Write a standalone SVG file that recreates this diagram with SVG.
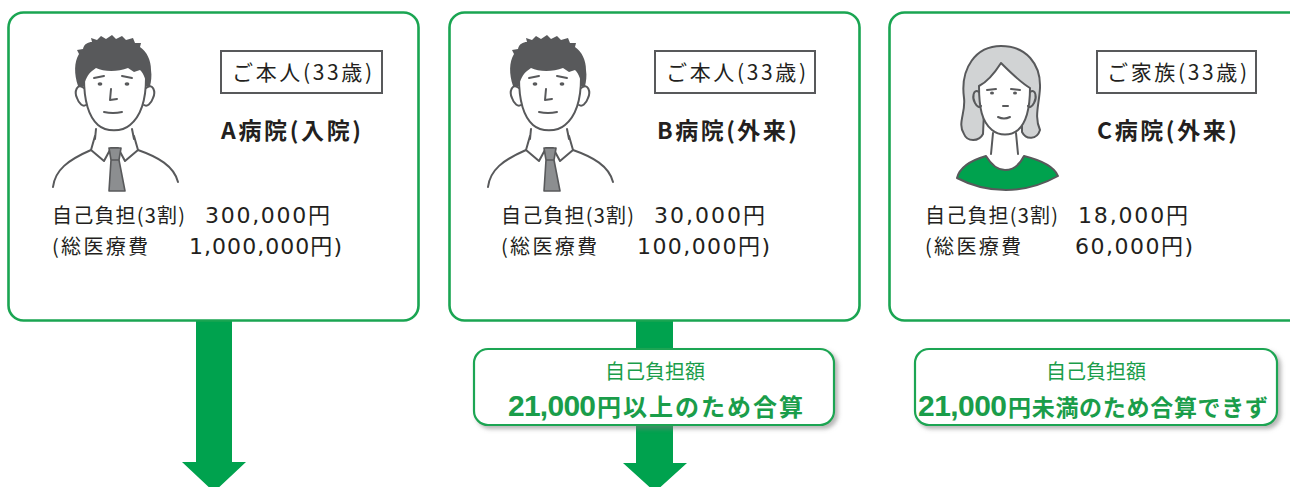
<svg xmlns="http://www.w3.org/2000/svg" xmlns:xlink="http://www.w3.org/1999/xlink" width="1290" height="487" viewBox="0 0 1290 487">
  <defs>
    <style>
      .card { fill: #ffffff; stroke: #1aa552; stroke-width: 2.6; }
      .tag { fill: #ffffff; stroke: #58595b; stroke-width: 2; }
      .txt { font-family: "Noto Sans CJK JP", "Liberation Sans", sans-serif; fill: #231f20; }
      .tagtxt { font-size: 21px; }
      .head { font-size: 23px; font-weight: bold; }
      .body { font-size: 20px; }
      .num { font-family: "DejaVu Sans", "Noto Sans CJK JP", sans-serif; font-size: 22px; }
      .pill { fill: #ffffff; stroke: #1aa552; stroke-width: 2.2; }
      .gtxt { font-family: "Liberation Sans", "Noto Sans CJK JP", sans-serif; fill: #1a9d4a; }
      .arrow { fill: #00a24e; }
      .ln { fill: none; stroke: #58595b; stroke-width: 2; stroke-linecap: round; stroke-linejoin: round; }
    </style>
    <filter id="drop" x="-10%" y="-30%" width="120%" height="170%">
      <feDropShadow dx="3" dy="3" stdDeviation="2" flood-color="#7a7a7a" flood-opacity="0.55"/>
    </filter>
    <!-- man in shirt and tie -->
    <g id="man">
      <path d="M78,86 C74,74 74,62 79,54 L77,50 L83,49 C84,44 88,42 92,42 L91,38 L97,40 L101,36 L106,39 L112,35 L116,39 L122,36 L126,40 L133,38 L135,43 L141,43 L140,47 C147,52 151,60 151,70 C152,76 151,82 150,86 L146,86 C146,80 144,74 140,70 L134,72 L128,68 C118,72 104,72 96,68 L92,71 C88,74 85,80 84,86 Z" fill="#58595b"/>
      <path class="ln" d="M84,78 C84,100 88,116 98,125 C106,132 122,132 130,125 C141,116 146,100 146,78"/>
      <path class="ln" d="M84,88 C77,82 74,92 77,98 C79,104 83,107 86,105"/>
      <path class="ln" d="M146,88 C153,82 156,92 153,98 C151,104 147,107 144,105"/>
      <path class="ln" d="M94,78 L104,76 M122,76 L132,78" stroke-width="1.6"/>
      <ellipse cx="100" cy="84" rx="2.4" ry="1.8" fill="#58595b"/>
      <ellipse cx="127" cy="84" rx="2.4" ry="1.8" fill="#58595b"/>
      <path class="ln" d="M111,89 L110,100 L117,99"/>
      <path class="ln" d="M104,112 Q113,114 122,112"/>
      <path class="ln" d="M96,129 L95,139 M132,129 L134,139"/>
      <path class="ln" d="M95,136 L91,150 L104,161 L111,148 L118,148 L125,161 L138,150 L134,136"/>
      <path class="ln" d="M53,187 C55,170 68,160 91,150"/>
      <path class="ln" d="M138,150 C158,157 174,166 178,182"/>
      <path d="M109,148 L121,148 L119,160 L111,160 Z M111,160 L119,160 L125,191 L109,191 Z" fill="#8c8e90" stroke="#58595b" stroke-width="1.6" stroke-linejoin="round"/>
    </g>
  </defs>

  <rect width="1290" height="487" fill="#ffffff"/>

  <!-- downward arrows -->
  <g id="connectors">
    <path class="arrow" d="M196,320 L232,320 L232,462 L246,462 L214,492 L182,462 L196,462 Z"/>
    <path class="arrow" d="M636,320 L673,320 L673,463 L687,463 L655,492 L623,463 L636,463 Z"/>
  </g>

  <!-- patient A -->
  <g id="card-a">
    <rect class="card" x="8.5" y="12.5" width="410" height="308" rx="15"/>
    <use xlink:href="#man"/>
    <rect class="tag" x="221" y="51" width="161" height="42"/>
    <text class="txt tagtxt" x="232" y="80" textLength="140">ご本人(33歳)</text>
    <text class="txt head" x="221" y="139" textLength="140">A病院(入院)</text>
    <text class="txt body" x="52" y="223" textLength="133">自己負担(3割)</text>
    <text class="txt num" x="205" y="223" textLength="125">300,000円</text>
    <text class="txt body" x="52" y="254" textLength="96">(総医療費</text>
    <text class="txt num" x="189" y="254" textLength="153">1,000,000円)</text>
  </g>

  <!-- patient B -->
  <g id="card-b">
    <rect class="card" x="449.5" y="12.5" width="410" height="308" rx="15"/>
    <use xlink:href="#man" transform="translate(435,0)"/>
    <rect class="tag" x="655" y="51" width="160" height="42"/>
    <text class="txt tagtxt" x="666" y="80" textLength="140">ご本人(33歳)</text>
    <text class="txt head" x="657" y="139" textLength="140">B病院(外来)</text>
    <text class="txt body" x="501" y="223" textLength="133">自己負担(3割)</text>
    <text class="txt num" x="654" y="223" textLength="111">30,000円</text>
    <text class="txt body" x="501" y="254" textLength="96">(総医療費</text>
    <text class="txt num" x="637" y="254" textLength="133">100,000円)</text>
  </g>

  <!-- family member C -->
  <g id="card-c">
    <rect class="card" x="889.5" y="12.5" width="420" height="308" rx="15"/>
    <g id="woman">
      <path d="M964,134 C957,124 966,112 964,98 C960,68 976,46 1001,46 C1026,46 1041,64 1040,88 C1039,106 1034,116 1040,130 C1037,140 1026,140 1022,132 L1022,112 L984,112 L983,134 C979,142 967,142 964,134 Z" fill="#d1d3d4" stroke="#58595b" stroke-width="2" stroke-linejoin="round"/>
      <path d="M979,86 C979,108 982,122 992,130 C999,136 1011,136 1018,130 C1027,122 1030,108 1030,88 C1020,82 1010,72 1001,63 C994,74 987,82 979,86 Z" fill="#ffffff" stroke="#58595b" stroke-width="2" stroke-linejoin="round"/>
      <path class="ln" d="M979,92 C973,88 972,98 975,103 C977,107 980,108 981,106"/>
      <path class="ln" d="M1030,92 C1036,88 1037,98 1034,103 C1032,107 1029,108 1028,106"/>
      <path class="ln" d="M987,90 L996,89 M1011,89 L1020,90" stroke-width="1.5"/>
      <ellipse cx="992" cy="93" rx="2" ry="1.6" fill="#58595b"/>
      <ellipse cx="1015" cy="93" rx="2" ry="1.6" fill="#58595b"/>
      <path class="ln" d="M1003,106 L1008,106"/>
      <path class="ln" d="M998,117 Q1004,120 1010,117"/>
      <path class="ln" d="M993,133 L991,154 M1016,133 L1018,154"/>
      <path d="M957,178 C960,166 972,160 986,156 C992,166 998,170 1005,170 C1012,170 1019,166 1024,156 C1040,160 1054,166 1058,176 C1040,186 1022,190 1006,190 C990,190 972,186 957,178 Z" fill="#00a24e" stroke="#58595b" stroke-width="2" stroke-linejoin="round"/>
    </g>
    <rect class="tag" x="1097" y="51" width="159" height="42"/>
    <text class="txt tagtxt" x="1107" y="80" textLength="140">ご家族(33歳)</text>
    <text class="txt head" x="1097" y="139" textLength="140">C病院(外来)</text>
    <text class="txt body" x="925" y="223" textLength="133">自己負担(3割)</text>
    <text class="txt num" x="1078" y="223" textLength="110">18,000円</text>
    <text class="txt body" x="925" y="254" textLength="96">(総医療費</text>
    <text class="txt num" x="1075" y="254" textLength="118">60,000円)</text>
  </g>

  <!-- combined-amount notes -->
  <g id="note-b">
    <rect class="pill" x="474" y="349" width="360" height="76" rx="14" filter="url(#drop)"/>
    <text class="gtxt" x="655" y="379" font-size="20" text-anchor="middle">自己負担額</text>
    <text class="gtxt" x="508" y="416" font-size="30" font-weight="bold" textLength="88">21,000</text>
    <text class="gtxt" x="597" y="416" font-size="24" font-weight="bold" textLength="206">円以上のため合算</text>
  </g>

  <g id="note-c">
    <rect class="pill" x="915" y="349" width="362" height="76" rx="14" filter="url(#drop)"/>
    <text class="gtxt" x="1096" y="379" font-size="20" text-anchor="middle">自己負担額</text>
    <text class="gtxt" x="918" y="416" font-size="30" font-weight="bold" textLength="89">21,000</text>
    <text class="gtxt" x="1008" y="416" font-size="23" font-weight="bold" textLength="260">円未満のため合算できず</text>
  </g>
</svg>
